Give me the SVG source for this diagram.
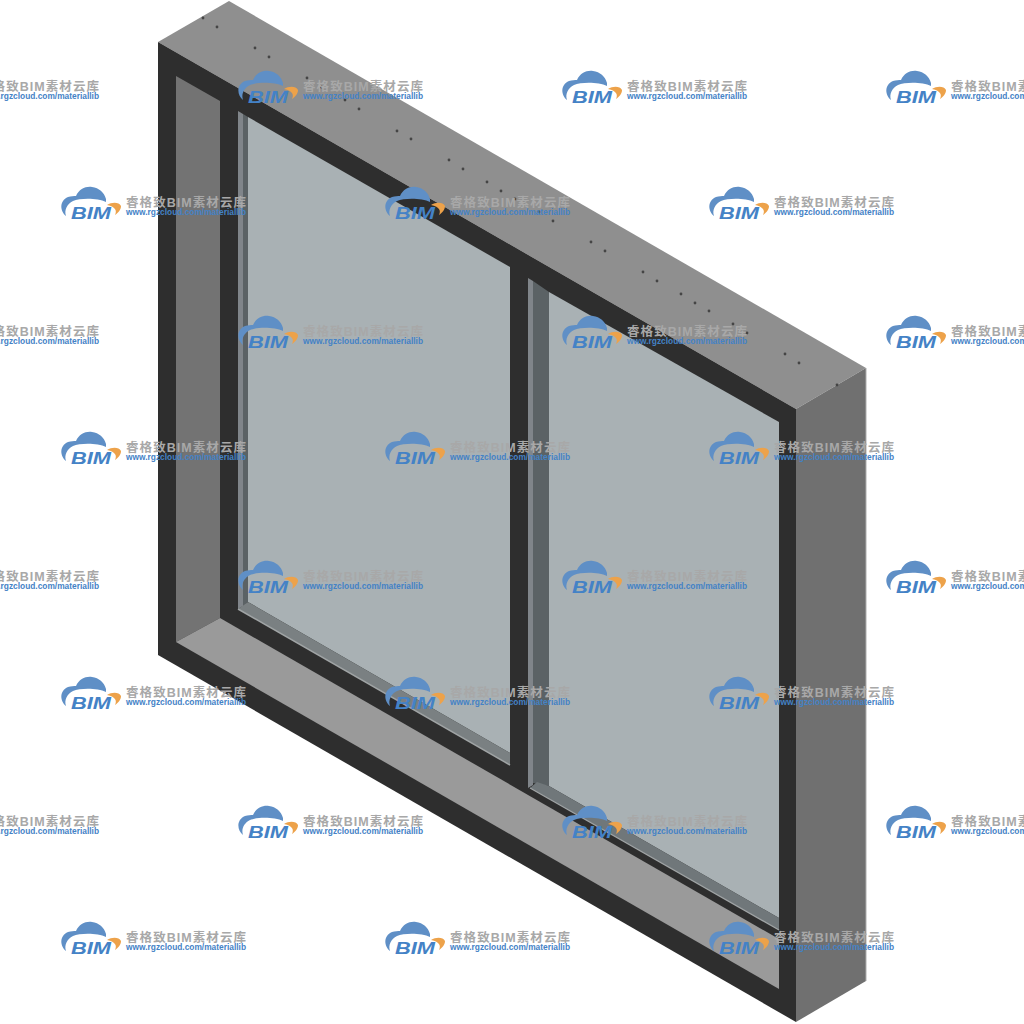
<svg xmlns="http://www.w3.org/2000/svg" width="1024" height="1024" viewBox="0 0 1024 1024">
<style>
.t{font:bold 12.5px "Liberation Sans","Noto Sans CJK SC",sans-serif;fill:#a8a8a8}
.u{font:bold 8.5px "Liberation Sans",sans-serif;fill:#4482c6}
.b{font:italic bold 17px "Liberation Sans",sans-serif;fill:#4482c6}
.d{fill:#454545}
</style>
<defs>
<g id="logo">
<path fill="#5f8fc6" d="M66 216C60 211 59 201 68 197C71 196 74 196 76 196C79 189 86 186 92 187C99 188 104 192 106 199C106 200 106 201 106 202C98 198 80 198 73 201C67 204 64 210 66 216Z"/>
<path fill="#eda24a" d="M107 205C112 202 119 202 121 206C121 210 118 213 115 215C117 211 116 207 107 205Z"/>
</g>
</defs>
<polygon fill="#8f8f8f" points="158,42 229,1 866,368 796,409"/>
<polygon fill="#707070" points="796,409 866,368 866,981 796,1022"/>
<line x1="866" y1="368" x2="866" y2="981" stroke="#adadad"/>
<polygon fill="#2e2e2e" points="158,42 796,409 796,1022 158,655"/>
<polygon fill="#737373" points="176,76 220,101 220,618 176,642"/>
<polygon fill="#9a9a9a" points="176,642 220,618 779,939 779,989"/>
<polygon fill="#a9b1b4" points="248,117 510,267 510,753 248,602"/>
<polygon fill="#80858a" points="238,111 243,114 243,606 238,609"/>
<polygon fill="#5b6265" points="243,114 248,117 248,602 243,606"/>
<polygon fill="#7a8082" points="238,609 248,602 510,753 510,765"/>
<line x1="238" y1="609" x2="510" y2="765" stroke="#a0a4a5" stroke-width="1.5"/>
<polygon fill="#a9b1b4" points="549,292 779,422 779,918 549,786"/>
<polygon fill="#80858a" points="528,278 533,281 533,785 528,788"/>
<polygon fill="#5b6265" points="533,281 549,292 549,786 533,783"/>
<polygon fill="#70777a" points="530,788 537,782 549,786 779,918 779,930"/>
<line x1="530" y1="788" x2="779" y2="930" stroke="#a0a4a5" stroke-width="1.2"/>
<g class="d">
<circle cx="203" cy="18" r="1.4"/><circle cx="217" cy="27" r="1.4"/><circle cx="255" cy="48" r="1.4"/><circle cx="269" cy="57" r="1.4"/><circle cx="307" cy="78" r="1.4"/><circle cx="321" cy="87" r="1.4"/><circle cx="345" cy="100" r="1.4"/><circle cx="359" cy="109" r="1.4"/><circle cx="397" cy="131" r="1.4"/><circle cx="411" cy="139" r="1.4"/><circle cx="449" cy="160" r="1.4"/><circle cx="463" cy="169" r="1.4"/><circle cx="487" cy="182" r="1.4"/><circle cx="501" cy="191" r="1.4"/><circle cx="515" cy="199" r="1.4"/><circle cx="539" cy="212" r="1.4"/><circle cx="553" cy="221" r="1.4"/><circle cx="591" cy="242" r="1.4"/><circle cx="605" cy="251" r="1.4"/><circle cx="643" cy="272" r="1.4"/><circle cx="657" cy="281" r="1.4"/><circle cx="681" cy="294" r="1.4"/><circle cx="695" cy="303" r="1.4"/><circle cx="709" cy="311" r="1.4"/><circle cx="733" cy="324" r="1.4"/><circle cx="747" cy="333" r="1.4"/><circle cx="785" cy="354" r="1.4"/><circle cx="799" cy="363" r="1.4"/><circle cx="837" cy="385" r="1.4"/>
</g>
<g id="watermarks">
<g transform="translate(-147,-116)"><use href="#logo"/><text class="b" x="71" y="219" textLength="40" lengthAdjust="spacingAndGlyphs">BIM</text><text class="t" x="126" y="207" textLength="120">睿格致BIM素材云库</text><text class="u" x="126" y="215" textLength="120" lengthAdjust="spacingAndGlyphs">www.rgzcloud.com/materiallib</text></g>
<g transform="translate(177,-116)"><use href="#logo"/><text class="b" x="71" y="219" textLength="40" lengthAdjust="spacingAndGlyphs">BIM</text><text class="t" x="126" y="207" textLength="120">睿格致BIM素材云库</text><text class="u" x="126" y="215" textLength="120" lengthAdjust="spacingAndGlyphs">www.rgzcloud.com/materiallib</text></g>
<g transform="translate(501,-116)"><use href="#logo"/><text class="b" x="71" y="219" textLength="40" lengthAdjust="spacingAndGlyphs">BIM</text><text class="t" x="126" y="207" textLength="120">睿格致BIM素材云库</text><text class="u" x="126" y="215" textLength="120" lengthAdjust="spacingAndGlyphs">www.rgzcloud.com/materiallib</text></g>
<g transform="translate(825,-116)"><use href="#logo"/><text class="b" x="71" y="219" textLength="40" lengthAdjust="spacingAndGlyphs">BIM</text><text class="t" x="126" y="207" textLength="120">睿格致BIM素材云库</text><text class="u" x="126" y="215" textLength="120" lengthAdjust="spacingAndGlyphs">www.rgzcloud.com/materiallib</text></g>
<g transform="translate(0,0)"><use href="#logo"/><text class="b" x="71" y="219" textLength="40" lengthAdjust="spacingAndGlyphs">BIM</text><text class="t" x="126" y="207" textLength="120">睿格致BIM素材云库</text><text class="u" x="126" y="215" textLength="120" lengthAdjust="spacingAndGlyphs">www.rgzcloud.com/materiallib</text></g>
<g transform="translate(324,0)"><use href="#logo"/><text class="b" x="71" y="219" textLength="40" lengthAdjust="spacingAndGlyphs">BIM</text><text class="t" x="126" y="207" textLength="120">睿格致BIM素材云库</text><text class="u" x="126" y="215" textLength="120" lengthAdjust="spacingAndGlyphs">www.rgzcloud.com/materiallib</text></g>
<g transform="translate(648,0)"><use href="#logo"/><text class="b" x="71" y="219" textLength="40" lengthAdjust="spacingAndGlyphs">BIM</text><text class="t" x="126" y="207" textLength="120">睿格致BIM素材云库</text><text class="u" x="126" y="215" textLength="120" lengthAdjust="spacingAndGlyphs">www.rgzcloud.com/materiallib</text></g>
<g transform="translate(-147,129)"><use href="#logo"/><text class="b" x="71" y="219" textLength="40" lengthAdjust="spacingAndGlyphs">BIM</text><text class="t" x="126" y="207" textLength="120">睿格致BIM素材云库</text><text class="u" x="126" y="215" textLength="120" lengthAdjust="spacingAndGlyphs">www.rgzcloud.com/materiallib</text></g>
<g transform="translate(177,129)"><use href="#logo"/><text class="b" x="71" y="219" textLength="40" lengthAdjust="spacingAndGlyphs">BIM</text><text class="t" x="126" y="207" textLength="120">睿格致BIM素材云库</text><text class="u" x="126" y="215" textLength="120" lengthAdjust="spacingAndGlyphs">www.rgzcloud.com/materiallib</text></g>
<g transform="translate(501,129)"><use href="#logo"/><text class="b" x="71" y="219" textLength="40" lengthAdjust="spacingAndGlyphs">BIM</text><text class="t" x="126" y="207" textLength="120">睿格致BIM素材云库</text><text class="u" x="126" y="215" textLength="120" lengthAdjust="spacingAndGlyphs">www.rgzcloud.com/materiallib</text></g>
<g transform="translate(825,129)"><use href="#logo"/><text class="b" x="71" y="219" textLength="40" lengthAdjust="spacingAndGlyphs">BIM</text><text class="t" x="126" y="207" textLength="120">睿格致BIM素材云库</text><text class="u" x="126" y="215" textLength="120" lengthAdjust="spacingAndGlyphs">www.rgzcloud.com/materiallib</text></g>
<g transform="translate(0,245)"><use href="#logo"/><text class="b" x="71" y="219" textLength="40" lengthAdjust="spacingAndGlyphs">BIM</text><text class="t" x="126" y="207" textLength="120">睿格致BIM素材云库</text><text class="u" x="126" y="215" textLength="120" lengthAdjust="spacingAndGlyphs">www.rgzcloud.com/materiallib</text></g>
<g transform="translate(324,245)"><use href="#logo"/><text class="b" x="71" y="219" textLength="40" lengthAdjust="spacingAndGlyphs">BIM</text><text class="t" x="126" y="207" textLength="120">睿格致BIM素材云库</text><text class="u" x="126" y="215" textLength="120" lengthAdjust="spacingAndGlyphs">www.rgzcloud.com/materiallib</text></g>
<g transform="translate(648,245)"><use href="#logo"/><text class="b" x="71" y="219" textLength="40" lengthAdjust="spacingAndGlyphs">BIM</text><text class="t" x="126" y="207" textLength="120">睿格致BIM素材云库</text><text class="u" x="126" y="215" textLength="120" lengthAdjust="spacingAndGlyphs">www.rgzcloud.com/materiallib</text></g>
<g transform="translate(-147,374)"><use href="#logo"/><text class="b" x="71" y="219" textLength="40" lengthAdjust="spacingAndGlyphs">BIM</text><text class="t" x="126" y="207" textLength="120">睿格致BIM素材云库</text><text class="u" x="126" y="215" textLength="120" lengthAdjust="spacingAndGlyphs">www.rgzcloud.com/materiallib</text></g>
<g transform="translate(177,374)"><use href="#logo"/><text class="b" x="71" y="219" textLength="40" lengthAdjust="spacingAndGlyphs">BIM</text><text class="t" x="126" y="207" textLength="120">睿格致BIM素材云库</text><text class="u" x="126" y="215" textLength="120" lengthAdjust="spacingAndGlyphs">www.rgzcloud.com/materiallib</text></g>
<g transform="translate(501,374)"><use href="#logo"/><text class="b" x="71" y="219" textLength="40" lengthAdjust="spacingAndGlyphs">BIM</text><text class="t" x="126" y="207" textLength="120">睿格致BIM素材云库</text><text class="u" x="126" y="215" textLength="120" lengthAdjust="spacingAndGlyphs">www.rgzcloud.com/materiallib</text></g>
<g transform="translate(825,374)"><use href="#logo"/><text class="b" x="71" y="219" textLength="40" lengthAdjust="spacingAndGlyphs">BIM</text><text class="t" x="126" y="207" textLength="120">睿格致BIM素材云库</text><text class="u" x="126" y="215" textLength="120" lengthAdjust="spacingAndGlyphs">www.rgzcloud.com/materiallib</text></g>
<g transform="translate(0,490)"><use href="#logo"/><text class="b" x="71" y="219" textLength="40" lengthAdjust="spacingAndGlyphs">BIM</text><text class="t" x="126" y="207" textLength="120">睿格致BIM素材云库</text><text class="u" x="126" y="215" textLength="120" lengthAdjust="spacingAndGlyphs">www.rgzcloud.com/materiallib</text></g>
<g transform="translate(324,490)"><use href="#logo"/><text class="b" x="71" y="219" textLength="40" lengthAdjust="spacingAndGlyphs">BIM</text><text class="t" x="126" y="207" textLength="120">睿格致BIM素材云库</text><text class="u" x="126" y="215" textLength="120" lengthAdjust="spacingAndGlyphs">www.rgzcloud.com/materiallib</text></g>
<g transform="translate(648,490)"><use href="#logo"/><text class="b" x="71" y="219" textLength="40" lengthAdjust="spacingAndGlyphs">BIM</text><text class="t" x="126" y="207" textLength="120">睿格致BIM素材云库</text><text class="u" x="126" y="215" textLength="120" lengthAdjust="spacingAndGlyphs">www.rgzcloud.com/materiallib</text></g>
<g transform="translate(-147,619)"><use href="#logo"/><text class="b" x="71" y="219" textLength="40" lengthAdjust="spacingAndGlyphs">BIM</text><text class="t" x="126" y="207" textLength="120">睿格致BIM素材云库</text><text class="u" x="126" y="215" textLength="120" lengthAdjust="spacingAndGlyphs">www.rgzcloud.com/materiallib</text></g>
<g transform="translate(177,619)"><use href="#logo"/><text class="b" x="71" y="219" textLength="40" lengthAdjust="spacingAndGlyphs">BIM</text><text class="t" x="126" y="207" textLength="120">睿格致BIM素材云库</text><text class="u" x="126" y="215" textLength="120" lengthAdjust="spacingAndGlyphs">www.rgzcloud.com/materiallib</text></g>
<g transform="translate(501,619)"><use href="#logo"/><text class="b" x="71" y="219" textLength="40" lengthAdjust="spacingAndGlyphs">BIM</text><text class="t" x="126" y="207" textLength="120">睿格致BIM素材云库</text><text class="u" x="126" y="215" textLength="120" lengthAdjust="spacingAndGlyphs">www.rgzcloud.com/materiallib</text></g>
<g transform="translate(825,619)"><use href="#logo"/><text class="b" x="71" y="219" textLength="40" lengthAdjust="spacingAndGlyphs">BIM</text><text class="t" x="126" y="207" textLength="120">睿格致BIM素材云库</text><text class="u" x="126" y="215" textLength="120" lengthAdjust="spacingAndGlyphs">www.rgzcloud.com/materiallib</text></g>
<g transform="translate(0,735)"><use href="#logo"/><text class="b" x="71" y="219" textLength="40" lengthAdjust="spacingAndGlyphs">BIM</text><text class="t" x="126" y="207" textLength="120">睿格致BIM素材云库</text><text class="u" x="126" y="215" textLength="120" lengthAdjust="spacingAndGlyphs">www.rgzcloud.com/materiallib</text></g>
<g transform="translate(324,735)"><use href="#logo"/><text class="b" x="71" y="219" textLength="40" lengthAdjust="spacingAndGlyphs">BIM</text><text class="t" x="126" y="207" textLength="120">睿格致BIM素材云库</text><text class="u" x="126" y="215" textLength="120" lengthAdjust="spacingAndGlyphs">www.rgzcloud.com/materiallib</text></g>
<g transform="translate(648,735)"><use href="#logo"/><text class="b" x="71" y="219" textLength="40" lengthAdjust="spacingAndGlyphs">BIM</text><text class="t" x="126" y="207" textLength="120">睿格致BIM素材云库</text><text class="u" x="126" y="215" textLength="120" lengthAdjust="spacingAndGlyphs">www.rgzcloud.com/materiallib</text></g>
</g>
</svg>
